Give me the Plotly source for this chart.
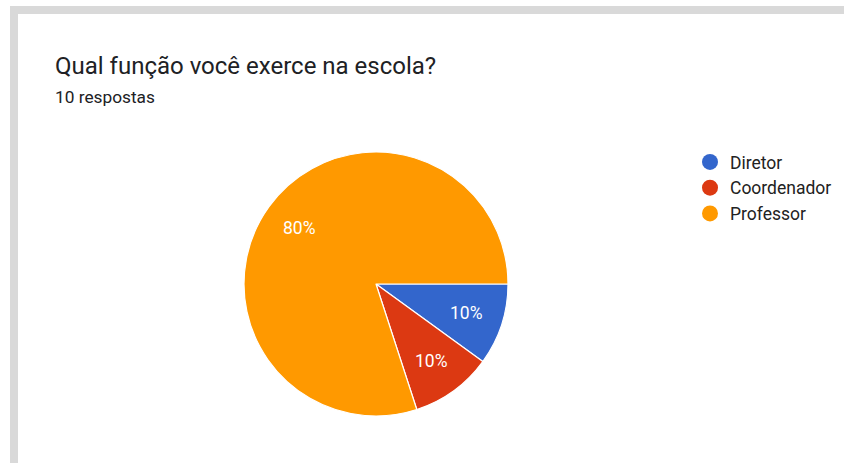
import math
import plotly.graph_objects as go

W, H = 844, 463

categories = ["Diretor", "Coordenador", "Professor"]
values = [1, 1, 8]
colors = ["#3366cc", "#dc3912", "#ff9900"]
title_text = "Qual função você exerce na escola?"
subtitle_text = "10 respostas"


def px_x(x):
    return x / W


def px_y(y):
    return 1 - y / H


fig = go.Figure()

cx, cy, r = 376, 284, 132
fig.add_trace(go.Pie(
    labels=categories,
    values=values,
    marker=dict(colors=colors, line=dict(color="white", width=1.2)),
    sort=False,
    direction="clockwise",
    rotation=90,
    textinfo="none",
    domain=dict(x=[px_x(cx - r), px_x(cx + r)], y=[px_y(cy + r), px_y(cy - r)]),
    showlegend=False,
    hoverinfo="label+percent",
))

# Legend entries with circular markers
for cat, col in zip(categories, colors):
    fig.add_trace(go.Scatter(
        x=[None], y=[None], mode="markers", name=cat,
        marker=dict(color=col, size=18, symbol="circle"),
        showlegend=True,
    ))

shapes = [
    dict(type="rect", xref="paper", yref="paper",
         x0=px_x(10), x1=1.05, y0=-0.05, y1=px_y(6),
         fillcolor="#d9d9d9", line=dict(width=0), layer="below"),
    dict(type="rect", xref="paper", yref="paper",
         x0=px_x(18), x1=1.05, y0=-0.05, y1=px_y(14),
         fillcolor="white", line=dict(width=0), layer="below"),
]

annotations = [
    dict(text=title_text, xref="paper", yref="paper", x=px_x(53), y=px_y(66),
         xanchor="left", yanchor="middle", showarrow=False,
         font=dict(family="Roboto, Arial, sans-serif", size=24, color="#202124")),
    dict(text=subtitle_text, xref="paper", yref="paper", x=px_x(53), y=px_y(97),
         xanchor="left", yanchor="middle", showarrow=False,
         font=dict(family="Roboto, Arial, sans-serif", size=17.3, color="#202124")),
]

# Percentage labels placed along each slice's mid-angle (Google Charts style)
total = sum(values)
start = 0.0
for v in values:
    frac = v / total
    mid = (start + frac / 2) * 2 * math.pi  # clockwise from 3 o'clock
    lx = cx + 0.72 * r * math.cos(mid)
    ly = cy + 0.72 * r * math.sin(mid)
    annotations.append(dict(
        text=f"{round(frac * 100)}%", xref="paper", yref="paper",
        x=px_x(lx), y=px_y(ly), xanchor="center", yanchor="middle",
        showarrow=False,
        font=dict(family="Roboto, Arial, sans-serif", size=17.5, color="white"),
    ))
    start += frac

fig.update_layout(
    width=W, height=H,
    margin=dict(l=0, r=0, t=0, b=0),
    paper_bgcolor="white",
    plot_bgcolor="rgba(0,0,0,0)",
    xaxis=dict(visible=False, domain=[0.9, 0.91]),
    yaxis=dict(visible=False, domain=[0.9, 0.91]),
    shapes=shapes,
    annotations=annotations,
    legend=dict(
        x=px_x(690), y=px_y(144), xanchor="left", yanchor="top",
        font=dict(family="Roboto, Arial, sans-serif", size=17.5, color="#222222"),
        bgcolor="rgba(0,0,0,0)", tracegroupgap=0, itemsizing="trace",
    ),
)

fig.write_html("out.html")
